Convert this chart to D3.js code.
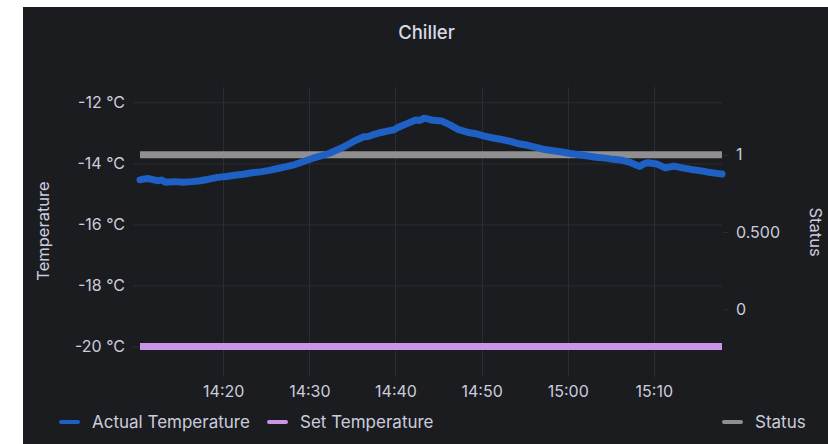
<!DOCTYPE html>
<html>
<head>
<meta charset="utf-8">
<script src="https://cdn.jsdelivr.net/npm/d3@7"></script>
<style>
  html, body { margin: 0; padding: 0; background: #ffffff; }
  svg { display: block; font-family: Inter, "Noto Sans", sans-serif; }
</style>
</head>
<body>
<svg id="chart" width="828" height="444"></svg>
<script>
// series data
const actualTimes = [
    "14:10:20", "14:10:50", "14:11:20", "14:12:20", "14:12:50", "14:13:20", "14:14:20", "14:15:20",
    "14:16:20", "14:17:20", "14:18:20", "14:19:20", "14:20:20", "14:21:20", "14:22:20", "14:23:20",
    "14:24:20", "14:25:20", "14:26:20", "14:27:20", "14:28:20", "14:29:20", "14:30:20", "14:31:20",
    "14:32:20", "14:33:20", "14:34:20", "14:35:20", "14:36:20", "14:36:50", "14:37:20", "14:38:20",
    "14:39:20", "14:39:50", "14:40:20", "14:41:20", "14:42:20", "14:42:50", "14:43:20", "14:43:50",
    "14:44:20", "14:45:20", "14:46:20", "14:47:20", "14:48:20", "14:49:20", "14:50:20", "14:51:20",
    "14:52:20", "14:53:20", "14:54:20", "14:55:20", "14:56:20", "14:57:20", "14:58:20", "14:59:20",
    "15:00:20", "15:01:20", "15:02:20", "15:03:20", "15:04:20", "15:05:20", "15:06:20", "15:07:20",
    "15:08:20", "15:08:50", "15:09:20", "15:10:20", "15:11:20", "15:12:20", "15:13:20", "15:14:20",
    "15:15:20", "15:16:20", "15:17:20", "15:17:55"
];
const actualTemperature = [
    -14.54, -14.51, -14.50, -14.57, -14.55, -14.62, -14.60, -14.62,
    -14.60, -14.57, -14.52, -14.46, -14.43, -14.39, -14.36, -14.31,
    -14.28, -14.23, -14.17, -14.11, -14.04, -13.94, -13.84, -13.76,
    -13.67, -13.55, -13.41, -13.25, -13.13, -13.12, -13.07, -12.99,
    -12.93, -12.90, -12.82, -12.70, -12.58, -12.60, -12.52, -12.55,
    -12.59, -12.61, -12.74, -12.90, -12.98, -13.03, -13.11, -13.17,
    -13.22, -13.28, -13.36, -13.41, -13.48, -13.55, -13.59, -13.63,
    -13.68, -13.72, -13.76, -13.80, -13.83, -13.87, -13.90, -13.98,
    -14.10, -14.02, -13.98, -14.02, -14.15, -14.09, -14.15, -14.20,
    -14.24, -14.29, -14.33, -14.35
];
const flatTimes = ["14:10:20", "15:17:55"];
const setTemperature = [-20, -20];
const statusValues = [1, 1];

const tempTicks = [-20, -18, -16, -14, -12];
const statusTicks = [0, 0.5, 1];
const statusTickLabels = ["0", "0.500", "1"];
const timeTickFormat = "%H:%M";

const seriesNames = ["Actual Temperature", "Set Temperature", "Status"];
const seriesColors = ["#1f60c4", "#ca95e5", "#8f8f8f"];

// layout
const W = 828, H = 444;
const panel = { x: 23, y: 7 };
const plot = { left: 140, right: 722, top: 87, bottom: 377 };
const textColor = "#ccccdc";
const gridColor = "#2b2d32";

const parseTime = d3.timeParse("%H:%M:%S");

const svg = d3.select("#chart");

svg.append("rect")
    .attr("x", panel.x)
    .attr("y", panel.y)
    .attr("width", W - panel.x)
    .attr("height", H - panel.y)
    .attr("fill", "#1b1c20");

svg.append("text")
    .attr("x", (panel.x + W) / 2 + 1)
    .attr("y", 32)
    .attr("text-anchor", "middle")
    .attr("dominant-baseline", "central")
    .attr("fill", "#d8d9e2")
    .attr("font-size", 18.5)
    .attr("font-weight", 500)
    .text("Chiller");

const xScale = d3.scaleTime()
    .domain([parseTime(flatTimes[0]), parseTime(flatTimes[1])])
    .range([plot.left, plot.right]);

const yScale = d3.scaleLinear()
    .domain([-21, -11.5])
    .range([plot.bottom, plot.top]);

const statusScale = d3.scaleLinear()
    .domain([-0.44, 1.44])
    .range([plot.bottom, plot.top]);

const timeTicks = xScale.ticks(d3.timeMinute.every(10));

// grid
const grid = svg.append("g");
grid.selectAll("line.h")
    .data(tempTicks)
    .enter().append("line")
    .attr("class", "h")
    .attr("x1", plot.left)
    .attr("x2", plot.right)
    .attr("y1", (d) => yScale(d) + 0.5)
    .attr("y2", (d) => yScale(d) + 0.5)
    .attr("stroke", gridColor);

grid.selectAll("line.v")
    .data(timeTicks)
    .enter().append("line")
    .attr("class", "v")
    .attr("x1", (d) => Math.round(xScale(d)) + 0.5)
    .attr("x2", (d) => Math.round(xScale(d)) + 0.5)
    .attr("y1", plot.top)
    .attr("y2", plot.bottom)
    .attr("stroke", gridColor);

// axes
const leftAxis = svg.append("g")
    .attr("transform", `translate(${plot.left}, 0)`)
    .call(d3.axisLeft(yScale).tickValues(tempTicks).tickSize(7).tickPadding(8)
        .tickFormat((d) => `${d} °C`));

const rightAxis = svg.append("g")
    .attr("transform", `translate(${plot.right + 1}, 0)`)
    .call(d3.axisRight(statusScale).tickValues(statusTicks).tickSize(6).tickPadding(7)
        .tickFormat((d, i) => statusTickLabels[i]));

const bottomAxis = svg.append("g")
    .attr("transform", `translate(0, ${plot.bottom})`)
    .call(d3.axisBottom(xScale).tickValues(timeTicks).tickSize(0).tickPadding(9)
        .tickFormat(d3.timeFormat(timeTickFormat)));

[leftAxis, rightAxis, bottomAxis].forEach((g) => {
    g.select(".domain").remove();
    g.selectAll(".tick line").attr("stroke", gridColor);
    g.selectAll(".tick text")
        .attr("fill", textColor)
        .attr("font-size", 16)
        .attr("font-family", "Inter, sans-serif");
});

// axis titles
svg.append("text")
    .attr("transform", "translate(43, 231) rotate(-90)")
    .attr("text-anchor", "middle")
    .attr("dominant-baseline", "central")
    .attr("fill", textColor)
    .attr("font-size", 16.5)
    .text("Temperature");

svg.append("text")
    .attr("transform", "translate(816, 232) rotate(90)")
    .attr("text-anchor", "middle")
    .attr("dominant-baseline", "central")
    .attr("fill", textColor)
    .attr("font-size", 16.5)
    .text("Status");

// series
const lines = svg.append("g").attr("fill", "none").attr("stroke-linejoin", "round");

const tempLine = d3.line()
    .x((d) => xScale(d[0]))
    .y((d) => yScale(d[1]));

const statusLine = d3.line()
    .x((d) => xScale(d[0]))
    .y((d) => statusScale(d[1]));

lines.append("path")
    .datum(flatTimes.map((t, i) => [parseTime(t), setTemperature[i]]))
    .attr("d", tempLine)
    .attr("stroke", seriesColors[1])
    .attr("stroke-width", 7);

lines.append("path")
    .datum(flatTimes.map((t, i) => [parseTime(t), statusValues[i]]))
    .attr("d", statusLine)
    .attr("stroke", seriesColors[2])
    .attr("stroke-width", 7);

lines.append("path")
    .datum(actualTimes.map((t, i) => [parseTime(t), actualTemperature[i]]))
    .attr("d", tempLine)
    .attr("stroke", seriesColors[0])
    .attr("stroke-width", 7)
    .attr("stroke-linecap", "round");

// legend
const legendX = [59, 267, 722];
const legend = svg.append("g");
seriesNames.forEach((name, i) => {
    legend.append("rect")
        .attr("x", legendX[i])
        .attr("y", 420)
        .attr("width", 21)
        .attr("height", 4)
        .attr("rx", 2)
        .attr("fill", seriesColors[i]);
    legend.append("text")
        .attr("x", legendX[i] + 33)
        .attr("y", 422)
        .attr("dominant-baseline", "central")
        .attr("fill", textColor)
        .attr("font-size", 17)
        .text(name);
});
</script>
</body>
</html>
